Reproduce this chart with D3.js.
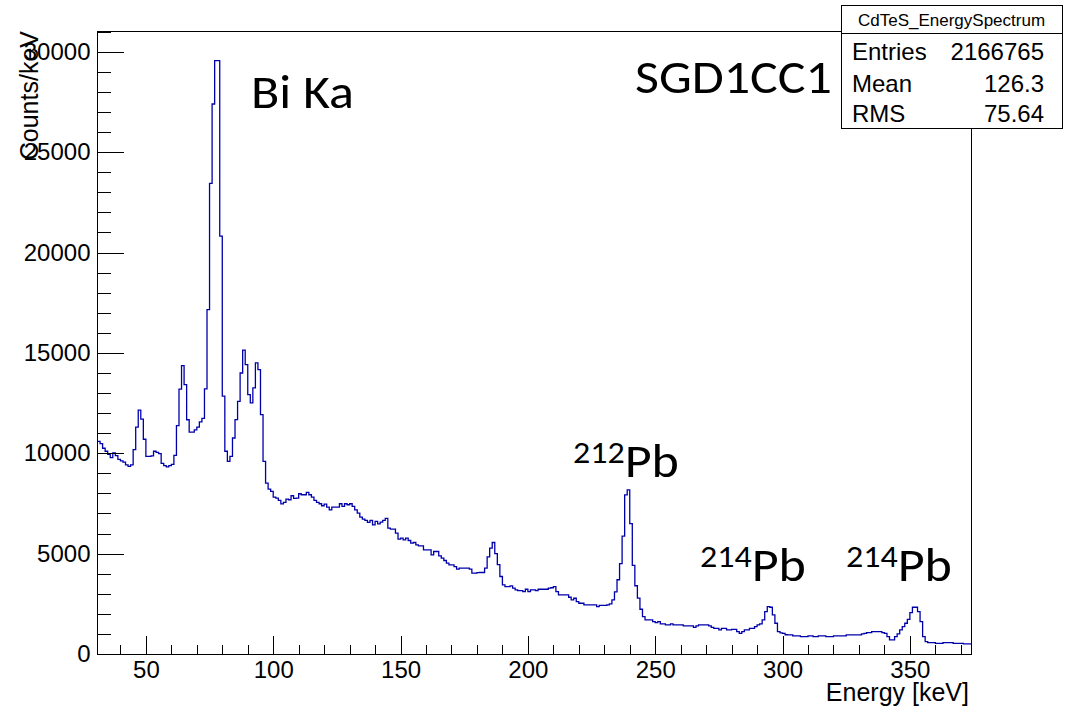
<!DOCTYPE html>
<html><head><meta charset="utf-8">
<script src="https://cdn.jsdelivr.net/npm/d3@7"></script>
<style>
html,body{margin:0;padding:0;background:#fff;}
svg{display:block;}
</style></head>
<body>
<svg id="chart" width="1066" height="715"></svg>
<script>
// ---------------- data ----------------
const histStart = 31;   // keV, low edge of first bin
const binWidth = 1;     // keV
// counts per bin, 31-96 keV
const countsLow = [
  10590,10480,10250,10100,9950,9780,10020,9880,9700,9620,
  9560,9420,9350,9420,10180,11300,12150,11700,10700,9850,
  9850,9870,10100,10050,9980,9500,9380,9320,9380,9450,
  9900,11380,13200,14370,13420,11670,11050,11050,11170,11300,
  11560,11740,13210,17160,23450,27400,29560,29560,20820,12850,
  10100,9600,9850,10760,11680,12590,14000,15140,14420,12920,
  12510,13260,14500,14170,11930,9600
];
// 97-180 keV
const countsMid = [
  8516,8216,8100,7817,7767,7651,7480,7551,7718,7684,
  7884,7750,7767,7984,7934,7934,8050,7934,7817,7651,
  7551,7485,7385,7468,7318,7185,7318,7318,7318,7485,
  7351,7485,7435,7485,7351,7185,7019,6819,6720,6653,
  6553,6653,6437,6603,6487,6570,6653,6760,6271,6221,
  6221,6021,5722,5772,5688,5772,5655,5522,5555,5439,
  5389,5389,5190,5190,5190,4940,5107,5107,4890,4774,
  4658,4525,4441,4441,4358,4225,4275,4275,4275,4275,
  4225,4026,4026,4059
];
// 181-288 keV
const countsPb212 = [
  4060,4060,4280,4840,5273,5555,5000,4450,3860,3443,
  3360,3360,3393,3277,3194,3161,3161,3111,3227,3111,
  3194,3194,3161,3227,3227,3227,3227,3277,3300,3360,
  3111,2944,2944,2944,2944,2827,2694,2777,2611,2528,
  2528,2445,2445,2445,2445,2445,2362,2420,2420,2420,
  2450,2500,2700,3100,3700,4500,5870,7930,8180,6500,
  4420,3400,2780,2230,1860,1697,1697,1697,1614,1560,
  1614,1497,1497,1447,1447,1497,1447,1447,1447,1447,
  1397,1397,1397,1397,1331,1397,1447,1447,1447,1447,
  1397,1331,1281,1281,1198,1281,1281,1198,1198,1231,
  1231,1115,1032,1115,1198,1198,1281,1281
];
// 289-373 keV
const countsHigh = [
  1364,1450,1500,1700,2110,2362,2330,1946,1531,1115,
  1050,1032,960,948,948,899,899,899,865,865,
  865,899,899,865,865,899,899,899,865,865,
  865,899,899,899,899,899,948,948,948,948,
  948,948,998,1032,1065,1065,1115,1115,1115,1115,
  1065,1032,865,699,699,865,998,1198,1364,1531,
  1730,2063,2329,2329,2112,1614,865,616,566,566,
  566,533,533,533,566,566,566,566,533,533,
  533,533,500,500,500
];
const xAxisRange = [31, 374];
const xMajorTicks = [50, 100, 150, 200, 250, 300, 350];
const yMajorTicks = [0, 5000, 10000, 15000, 20000, 25000, 30000];
const xTitle = "Energy [keV]";
const yTitle = "Counts/keV";
const statsTitle = "CdTeS_EnergySpectrum";
const statsLabels = ["Entries", "Mean", "RMS"];
const statsValues = ["2166765", "126.3", "75.64"];

// ---------------- layout ----------------
const counts = countsLow.concat(countsMid, countsPb212, countsHigh);
const frame = {left: 97.5, right: 971, top: 31, bottom: 654};
const svg = d3.select("#chart");
const axisFont = "'Liberation Sans', Arial, Helvetica, sans-serif";
const noteFont = "Carlito, Calibri, Lato, sans-serif";

const x = d3.scaleLinear().domain(xAxisRange).range([frame.left, frame.right]);
const yMax = 1.05 * d3.max(counts);
const y = d3.scaleLinear().domain([0, yMax]).range([frame.bottom, frame.top]);

// histogram step outline
const pts = counts.map((c, i) => [histStart + i * binWidth, c]);
pts.push([histStart + counts.length * binWidth, counts[counts.length - 1]]);
const line = d3.line().x(d => x(d[0])).y(d => y(d[1])).curve(d3.curveStepAfter);

svg.append("path")
  .attr("d", line(pts))
  .attr("fill", "none")
  .attr("stroke", "#0000aa")
  .attr("stroke-width", 1.3);

// frame
svg.append("rect")
  .attr("x", frame.left).attr("y", frame.top)
  .attr("width", frame.right - frame.left).attr("height", frame.bottom - frame.top)
  .attr("fill", "none").attr("stroke", "#000").attr("stroke-width", 1)
  .attr("shape-rendering", "crispEdges");

// y axis
const yMinor = d3.range(0, yMax, 1000).filter(v => v % 5000 !== 0);
const yAxisMinor = svg.append("g").attr("transform", `translate(${frame.left},0)`)
  .call(d3.axisLeft(y).tickValues(yMinor).tickSize(-13).tickFormat(""));
const yAxis = svg.append("g").attr("transform", `translate(${frame.left},0)`)
  .call(d3.axisLeft(y).tickValues(yMajorTicks).tickSize(-26).tickPadding(7).tickFormat(d3.format("d")));

// x axis
const xMinor = d3.range(40, xAxisRange[1], 10).filter(v => v % 50 !== 0);
const xAxisMinor = svg.append("g").attr("transform", `translate(0,${frame.bottom})`)
  .call(d3.axisBottom(x).tickValues(xMinor).tickSize(-9.5).tickFormat(""));
const xAxis = svg.append("g").attr("transform", `translate(0,${frame.bottom})`)
  .call(d3.axisBottom(x).tickValues(xMajorTicks).tickSize(-18.5).tickPadding(7).tickFormat(d3.format("d")));

[yAxisMinor, yAxis, xAxisMinor, xAxis].forEach(g => {
  g.select(".domain").remove();
  g.selectAll(".tick line").attr("stroke", "#000").attr("shape-rendering", "crispEdges");
  g.selectAll("text").attr("font-family", axisFont).attr("font-size", 24).attr("fill", "#000");
});

// axis titles
svg.append("text")
  .attr("x", 969).attr("y", 701)
  .attr("text-anchor", "end")
  .attr("font-family", axisFont).attr("font-size", 25)
  .text(xTitle);
svg.append("text")
  .attr("transform", "translate(38,31) rotate(-90)")
  .attr("text-anchor", "end")
  .attr("font-family", axisFont).attr("font-size", 25)
  .text(yTitle);

// stats box
const box = {left: 841, right: 1062, top: 5, bottom: 128, divider: 33.5};
svg.append("rect")
  .attr("x", box.left).attr("y", box.top)
  .attr("width", box.right - box.left).attr("height", box.bottom - box.top)
  .attr("fill", "#fff").attr("stroke", "#000").attr("stroke-width", 1)
  .attr("shape-rendering", "crispEdges");
svg.append("line")
  .attr("x1", box.left).attr("x2", box.right)
  .attr("y1", box.divider).attr("y2", box.divider)
  .attr("stroke", "#000").attr("shape-rendering", "crispEdges");
svg.append("text")
  .attr("x", (box.left + box.right) / 2).attr("y", 26)
  .attr("text-anchor", "middle")
  .attr("font-family", axisFont).attr("font-size", 17)
  .text(statsTitle);
const rowBase = [60, 91.5, 121.5];
statsLabels.forEach((lab, i) => {
  svg.append("text").attr("x", 852).attr("y", rowBase[i])
    .attr("font-family", axisFont).attr("font-size", 24).text(lab);
  svg.append("text").attr("x", 1044).attr("y", rowBase[i])
    .attr("text-anchor", "end")
    .attr("font-family", axisFont).attr("font-size", 24).text(statsValues[i]);
});

// annotations (Calibri-like: wide glyphs, squeezed vertically)
function note(xp, yp, txt) {
  svg.append("text").attr("transform", `translate(${xp},${yp}) scale(1,0.89)`)
    .attr("font-family", noteFont).attr("font-size", 52).attr("fill", "#000").text(txt);
}
function isotope(xp, yp, mass, sym) {
  const t = svg.append("text").attr("transform", `translate(${xp},${yp}) scale(1,0.89)`)
    .attr("font-family", noteFont).attr("fill", "#000");
  t.append("tspan").attr("font-size", 34).attr("dy", -16).text(mass);
  t.append("tspan").attr("font-size", 52).attr("dy", 16).text(sym);
}
note(251, 108, "Bi Ka");
note(635, 93, "SGD1CC1");
isotope(573, 477, "212", "Pb");
isotope(700, 581, "214", "Pb");
isotope(846, 581, "214", "Pb");
</script>
</body></html>
